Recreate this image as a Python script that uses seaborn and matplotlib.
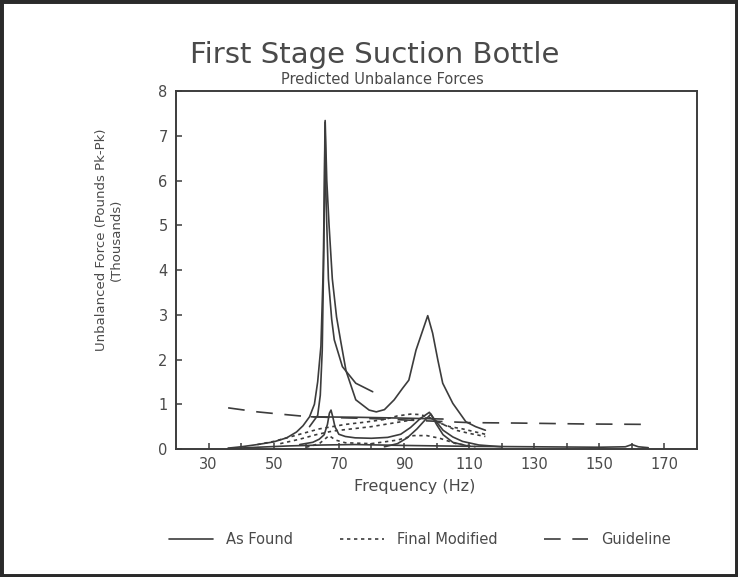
import matplotlib
matplotlib.use("Agg")
import matplotlib.pyplot as plt
from matplotlib.lines import Line2D
from matplotlib.patches import Rectangle
import seaborn as sns
import pandas as pd

# ---------------- data ----------------
title = "First Stage Suction Bottle"
subtitle = "Predicted Unbalance Forces"
x_label = "Frequency (Hz)"
y_label = "Unbalanced Force (Pounds Pk-Pk)\n(Thousands)"
x_tick_labels = [30, 50, 70, 90, 110, 130, 150, 170]
y_tick_labels = [0, 1, 2, 3, 4, 5, 6, 7, 8]
legend_labels = ["As Found", "Final Modified", "Guideline"]

# As Found (solid)
af1_freq = [36, 40, 45, 50, 54, 57, 59, 61, 62.5, 63.5, 64.5, 65.2, 65.6, 65.8, 66.3, 67, 68, 69.3, 70.6,
            72.2, 75.2, 79.3, 81.5, 84, 87, 89.5, 91.5, 93.7, 95.8, 97.3, 98.8, 100.4, 101.9, 105, 109, 112, 115]
af1_force = [0.02, 0.05, 0.1, 0.16, 0.25, 0.38, 0.52, 0.72, 1.0, 1.5, 2.3, 4.0, 6.0, 7.34, 6.0, 5.0, 3.8, 2.95, 2.4,
             1.75, 1.1, 0.87, 0.83, 0.88, 1.1, 1.35, 1.54, 2.21, 2.66, 2.98, 2.59, 1.99, 1.47, 1.02, 0.61, 0.5, 0.42]

af2_freq = [61, 63.5, 64.3, 64.9, 65.4, 65.75, 66.1, 66.8, 67.8, 68.6, 71.1, 75.2, 80.4]
af2_force = [0.5, 0.75, 1.2, 2.2, 4.5, 7.3, 5.5, 3.8, 2.9, 2.44, 1.84, 1.47, 1.28]

af3_freq = [61.5, 75, 90, 102]
af3_force = [0.72, 0.71, 0.69, 0.67]

af4_freq = [58, 62, 64, 65.5, 66.5, 67.1, 67.6, 68.2, 68.8, 70, 72, 75, 80, 85, 89, 92, 95, 97.8,
            99.5, 102, 105, 108, 113, 120]
af4_force = [0.1, 0.15, 0.22, 0.32, 0.55, 0.8, 0.87, 0.7, 0.5, 0.33, 0.28, 0.25, 0.24, 0.26, 0.33, 0.48, 0.68, 0.82,
             0.65, 0.42, 0.27, 0.17, 0.09, 0.05]

af5_freq = [84, 88, 91, 94, 96.5, 98.3, 100, 102, 105, 110]
af5_force = [0.05, 0.12, 0.25, 0.45, 0.65, 0.78, 0.55, 0.32, 0.15, 0.06]

af6_freq = [36, 45, 55, 65, 75, 90, 110, 130, 150, 158, 160, 162, 165]
af6_force = [0.01, 0.04, 0.07, 0.09, 0.1, 0.08, 0.06, 0.05, 0.04, 0.05, 0.1, 0.05, 0.03]

# Final Modified (dotted)
fm1_freq = [45, 50, 55, 60, 64, 68, 72, 78, 84, 88, 92, 95, 98, 101, 104, 108, 112, 115]
fm1_force = [0.1, 0.17, 0.27, 0.37, 0.45, 0.5, 0.55, 0.6, 0.66, 0.74, 0.78, 0.77, 0.7, 0.58, 0.5, 0.45, 0.38, 0.33]

fm2_freq = [52, 58, 63, 68, 74, 80, 85, 90, 95, 98, 102, 106, 110, 115]
fm2_force = [0.12, 0.22, 0.32, 0.4, 0.45, 0.5, 0.56, 0.62, 0.68, 0.7, 0.55, 0.42, 0.35, 0.28]

fm3_freq = [60, 64, 67, 69, 72, 80, 88, 93, 97, 101, 106, 112]
fm3_force = [0.04, 0.12, 0.3, 0.2, 0.14, 0.12, 0.2, 0.3, 0.3, 0.24, 0.12, 0.05]

# Guideline (dashed)
gl_freq = [36, 45, 52, 58, 62, 70, 80, 90, 100, 110, 125, 145, 165]
gl_force = [0.92, 0.83, 0.78, 0.74, 0.72, 0.70, 0.68, 0.65, 0.62, 0.59, 0.58, 0.56, 0.55]

curves = [
    ("af1", "As Found", af1_freq, af1_force),
    ("af2", "As Found", af2_freq, af2_force),
    ("af3", "As Found", af3_freq, af3_force),
    ("af4", "As Found", af4_freq, af4_force),
    ("af5", "As Found", af5_freq, af5_force),
    ("af6", "As Found", af6_freq, af6_force),
    ("fm1", "Final Modified", fm1_freq, fm1_force),
    ("fm2", "Final Modified", fm2_freq, fm2_force),
    ("fm3", "Final Modified", fm3_freq, fm3_force),
    ("gl", "Guideline", gl_freq, gl_force),
]

rows = []
for cid, kind, fr, fo in curves:
    for a, b in zip(fr, fo):
        rows.append({"curve": cid, "kind": kind, "freq": a, "force": b})
df = pd.DataFrame(rows)

# ---------------- styling ----------------
sns.set_style("ticks")
plt.rcParams["font.family"] = ["DejaVu Sans"]
ink = "#3c3c3c"
text_c = "#4a4a4a"

fig = plt.figure(figsize=(7.38, 5.77), dpi=100)
fig.patch.set_facecolor("white")
ax = fig.add_axes([0.2385, 0.2218, 0.706, 0.6205])
ax.set_facecolor("white")

dash_fm = (2, 2.2)
dash_gl = (10, 7)
dash_map = {"As Found": "", "Final Modified": dash_fm, "Guideline": dash_gl}
sns.lineplot(data=df, x="freq", y="force", units="curve", estimator=None,
             style="kind", dashes=dash_map, color=ink, linewidth=1.2,
             legend=False, ax=ax, sort=False)

ax.set_xlim(20, 180)
ax.set_ylim(0, 8)
ax.set_xticks(x_tick_labels)
ax.set_xticklabels([str(v) for v in x_tick_labels])
ax.set_xticks([40, 60, 80, 100, 120, 140, 160], minor=True)
ax.set_yticks(y_tick_labels)
ax.set_yticklabels([str(v) for v in y_tick_labels])
ax.tick_params(axis="both", which="both", direction="in", length=4, width=1.1,
               color=ink, labelcolor=text_c, labelsize=10.5)
ax.tick_params(axis="x", pad=6)
ax.tick_params(axis="y", pad=6)
ax.set_xlabel("")
ax.set_ylabel("")
for s in ax.spines.values():
    s.set_visible(True)
    s.set_color(ink)
    s.set_linewidth(1.4)

# titles and labels
fig.text(375 / 738, 1 - 55 / 577, title, ha="center", va="center", fontsize=21, color=text_c)
fig.text(382 / 738, 1 - 80 / 577, subtitle, ha="center", va="center", fontsize=10.5, color=text_c)
fig.text(415 / 738, 1 - 486 / 577, x_label, ha="center", va="center", fontsize=11.5, color=text_c)
fig.text(109 / 738, 1 - 240 / 577, y_label, ha="center", va="center", rotation=90,
         multialignment="center", fontsize=9.5, color=text_c, linespacing=1.25)

handles = [
    Line2D([], [], color=ink, lw=1.2, linestyle="-"),
    Line2D([], [], color=ink, lw=1.2, dashes=dash_fm),
    Line2D([], [], color=ink, lw=1.2, dashes=dash_gl),
]
fig.legend(handles, legend_labels, loc="center", bbox_to_anchor=(420 / 738, 1 - 540 / 577),
           ncol=3, frameon=False, fontsize=10.5, handlelength=3.0, handletextpad=0.9,
           columnspacing=3.2, labelcolor=text_c)

# scanned-page dark border
fig.patches.append(Rectangle((0, 0), 1, 1, transform=fig.transFigure, fill=False,
                             edgecolor="#2a2a2a", linewidth=5))

fig.savefig("out.png", dpi=100, facecolor="white")
